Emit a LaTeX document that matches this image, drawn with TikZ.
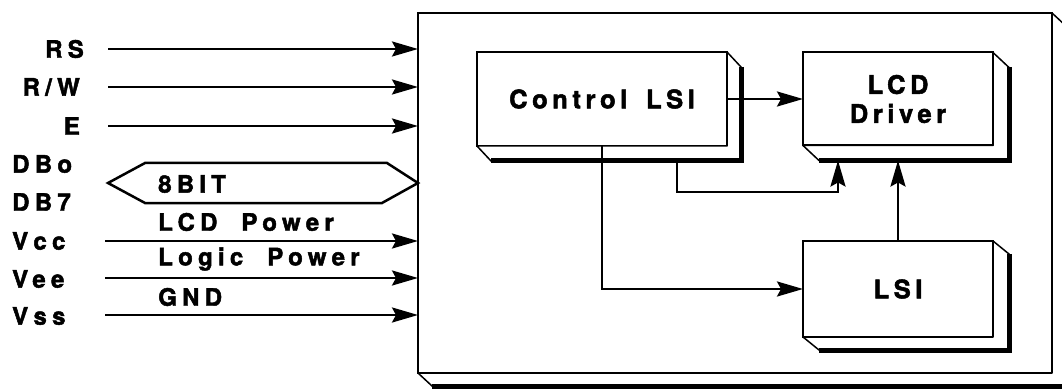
\documentclass[tikz,border=0pt]{standalone}
\usepackage{fontspec}
\setmainfont{TeX Gyre Heros}
\newfontfamily\tagfont{TeX Gyre Heros}[LetterSpace=22, FakeBold=2, WordSpace=2]
\newfontfamily\chipfont{TeX Gyre Heros}[LetterSpace=18, FakeBold=2, WordSpace=1.6]
\usetikzlibrary{calc,arrows.meta}
\tikzset{
    pin/.style={font=\tagfont\bfseries\fontsize{24}{28}\selectfont, inner sep=0pt},
    chip/.style={draw, fill=white, line width=2pt, inner sep=0pt, outer sep=0pt,
        align=center, font=\chipfont\bfseries\fontsize{25.5}{29}\selectfont},
    depthface/.style={draw, fill=white, line width=1.5pt, line join=round},
    depthedge/.style={line width=5pt},
    link/.style={-{Stealth[length=26pt, width=15pt, inset=4pt]}, line width=2.5pt},
    bus/.style={line width=2.5pt, line join=miter}
}
% side faces of a box seen from the front, #2 is the depth offset
\newcommand{\chipdepth}[2]{%
    \draw[depthface] (#1.north east) -- ++(#2) -- ($(#1.south east)+(#2)$)
        -- ($(#1.south west)+(#2)$) -- (#1.south west) -- (#1.south east) -- cycle;
    \draw[depthedge] ($(#1.north east)+(#2)$) -- ($(#1.south east)+(#2)$)
        -- ($(#1.south west)+(#2)$);
}

\begin{document}
\begin{tikzpicture}[x=1pt, y=-1pt]
    \useasboundingbox (0,0) rectangle (1062,390);
    \clip (0,0) rectangle (1062,390);
    % module outline
    \node[chip, line width=2.5pt, minimum width=634pt, minimum height=360pt] (module) at (735,193) {};
    \chipdepth{module}{14,13}
    \node[chip, minimum width=250pt, minimum height=94pt] (ctrl) at (602,99) {Control LSI};
    \chipdepth{ctrl}{14,15}
    \node[chip, minimum width=190pt, minimum height=93pt] (lcd) at (898,99) {LCD\\Driver};
    \chipdepth{lcd}{16,15}
    \node[chip, minimum width=190pt, minimum height=96pt] (lsi) at (898,289) {LSI};
    \chipdepth{lsi}{16,13}
    % pin names
    \node[pin, anchor=east] (rs) at (84,49) {RS};
    \node[pin, anchor=east] (rw) at (80,87) {R/W};
    \node[pin, anchor=east] (en) at (80,126) {E};
    \node[pin, anchor=west] (dbo) at (12,164) {DBo};
    \node[pin, anchor=west] (dbs) at (12,202) {DB7};
    \node[pin, anchor=west] (vcc) at (12,241) {Vcc};
    \node[pin, anchor=west] (vee) at (12,279) {Vee};
    \node[pin, anchor=west] (vss) at (12,316) {Vss};
    % names on the lines
    \node[pin, anchor=west] (bits) at (158,184) {8BIT};
    \node[pin, anchor=west] (lcdpow) at (158,222) {LCD Power};
    \node[pin, anchor=west] (logpow) at (158,259) {Logic Power};
    \node[pin, anchor=west] (gnd) at (158,297) {GND};
    % inputs
    \coordinate (rsin) at (108,49);
    \coordinate (rwin) at (108,87);
    \coordinate (enin) at (108,126);
    \coordinate (vccin) at (105,241);
    \coordinate (veein) at (105,278);
    \coordinate (vssin) at (105,315);
    \foreach \s in {rsin,rwin,enin,vccin,veein,vssin}
        \draw[link] (\s) -- (\s -| module.west);
    % data bus
    \coordinate (busl) at (108,183);
    \draw[bus] (busl) -- ++(37,-20) -- (387,163) -- (busl -| module.west)
        -- (382,203) -- (145,203) -- cycle;
    % inside the module
    \draw[link] (ctrl.east) -- (lcd.west);
    \draw[link] (ctrl.south) |- (lsi.west);
    \draw[link] ($(ctrl.south east)+(-50,15)$) -- ++(0,31) -| ($(lcd.south west)+(35,15)$);
    \draw[link] (lsi.north) -- ($(lcd.south)+(0,15)$);
\end{tikzpicture}
\end{document}
